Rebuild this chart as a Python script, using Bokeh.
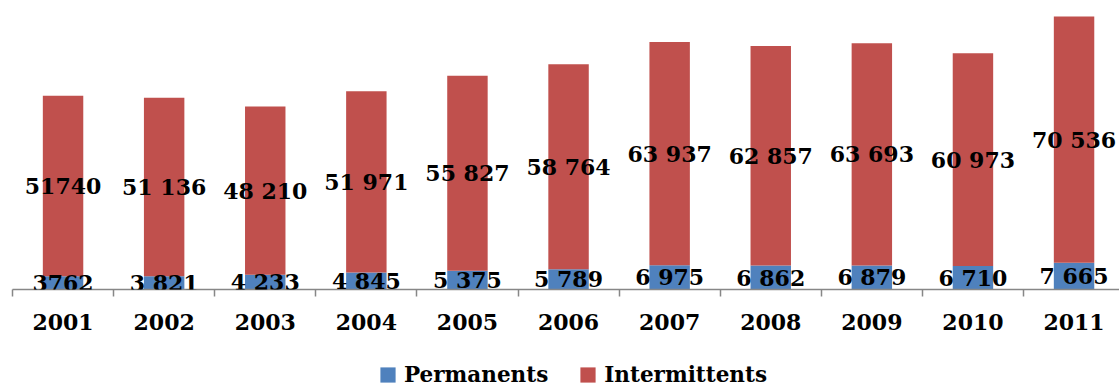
from bokeh.plotting import figure
from bokeh.layouts import column
from bokeh.core.properties import value
from bokeh.models import (ColumnDataSource, Range1d, LinearAxis, FixedTicker,
                          LabelSet, Legend, LegendItem)
from bokeh.embed import file_html
from bokeh.resources import INLINE

years = [2001, 2002, 2003, 2004, 2005, 2006, 2007, 2008, 2009, 2010, 2011]
permanents = [3762, 3821, 4233, 4845, 5375, 5789, 6975, 6862, 6879, 6710, 7665]
intermittents = [51740, 51136, 48210, 51971, 55827, 58764, 63937, 62857, 63693, 60973, 70536]
perm_labels = ["3762", "3 821", "4 233", "4 845", "5 375", "5 789", "6 975", "6 862", "6 879", "6 710", "7 665"]
inter_labels = ["51740", "51 136", "48 210", "51 971", "55 827", "58 764", "63 937", "62 857", "63 693", "60 973", "70 536"]
series_names = ["Permanents", "Intermittents"]

BLUE = "#4F81BD"
RED = "#C0504D"
FONT = "DejaVu Serif"

src = ColumnDataSource(dict(
    x=years,
    perm=permanents,
    inter=intermittents,
    top=[p + i for p, i in zip(permanents, intermittents)],
    perm_mid=[p / 2 for p in permanents],
    inter_mid=[p + i / 2 for p, i in zip(permanents, intermittents)],
    perm_lab=perm_labels,
    inter_lab=inter_labels,
))

p = figure(width=1119, height=340, output_backend="svg", toolbar_location=None,
           x_range=Range1d(2000.5, 2000.5 + 1107 / 101.1), y_range=Range1d(0, 82785),
           x_axis_type=None, y_axis_type=None,
           min_border_left=12, min_border_right=0, min_border_top=0, min_border_bottom=51)
p.outline_line_color = None
p.xgrid.visible = False
p.ygrid.visible = False

p.vbar(x="x", bottom=0, top="perm", width=0.4, fill_color=BLUE, line_color=None, source=src)
p.vbar(x="x", bottom="perm", top="top", width=0.4, fill_color=RED, line_color=None, source=src)

# axis with tick marks at category boundaries
bounds = [y - 0.5 for y in years] + [years[-1] + 0.5]
ax1 = LinearAxis(ticker=FixedTicker(ticks=bounds),
                 major_label_overrides={b: "" for b in bounds})
ax1.axis_line_color = "#878787"
ax1.axis_line_width = 1.5
ax1.major_tick_line_color = "#878787"
ax1.major_tick_line_width = 1.5
ax1.major_tick_out = 7
ax1.major_tick_in = 0
ax1.minor_tick_line_color = None
ax1.major_label_text_font_size = "1px"
ax1.major_label_standoff = 0
p.add_layout(ax1, "below")

# axis carrying the year labels at category centres
ax2 = LinearAxis(ticker=FixedTicker(ticks=years),
                 major_label_overrides={y: str(y) for y in years})
ax2.axis_line_color = None
ax2.major_tick_line_color = None
ax2.minor_tick_line_color = None
ax2.major_tick_out = 0
ax2.major_tick_in = 0
ax2.major_label_standoff = 17
ax2.major_label_text_font = FONT
ax2.major_label_text_font_style = "bold"
ax2.major_label_text_font_size = "22px"
ax2.major_label_text_color = "black"
p.add_layout(ax2, "below")

for ycol, tcol in (("perm_mid", "perm_lab"), ("inter_mid", "inter_lab")):
    ls = LabelSet(x="x", y=ycol, text=tcol, source=src, text_align="center",
                  text_baseline="middle", text_font=value(FONT),
                  text_font_style="bold", text_font_size=value("22px"),
                  text_color="black")
    p.add_layout(ls)

# legend strip
lg = figure(width=1119, height=47, output_backend="svg", toolbar_location=None,
            x_range=Range1d(0, 1), y_range=Range1d(0, 1),
            x_axis_type=None, y_axis_type=None,
            min_border_left=0, min_border_right=0, min_border_top=0, min_border_bottom=0)
lg.outline_line_color = None
lg.xgrid.visible = False
lg.ygrid.visible = False
d_perm = lg.vbar(x=[-5], top=[-5], width=0.4, fill_color=BLUE, line_color=None)
d_inter = lg.vbar(x=[-5], top=[-5], width=0.4, fill_color=RED, line_color=None)

legend = Legend(items=[LegendItem(label=series_names[0], renderers=[d_perm]),
                       LegendItem(label=series_names[1], renderers=[d_inter])],
                orientation="horizontal", location=(366, 0))
legend.glyph_width = 19
legend.glyph_height = 19
legend.label_standoff = 7
legend.spacing = 30
legend.padding = 0
legend.margin = 0
legend.border_line_color = None
legend.background_fill_alpha = 0
legend.label_text_font = FONT
legend.label_text_font_style = "bold"
legend.label_text_font_size = "21.5px"
legend.label_text_color = "black"
lg.add_layout(legend, "center")

open("out.html", "w").write(file_html(column(p, lg, spacing=0), INLINE))
